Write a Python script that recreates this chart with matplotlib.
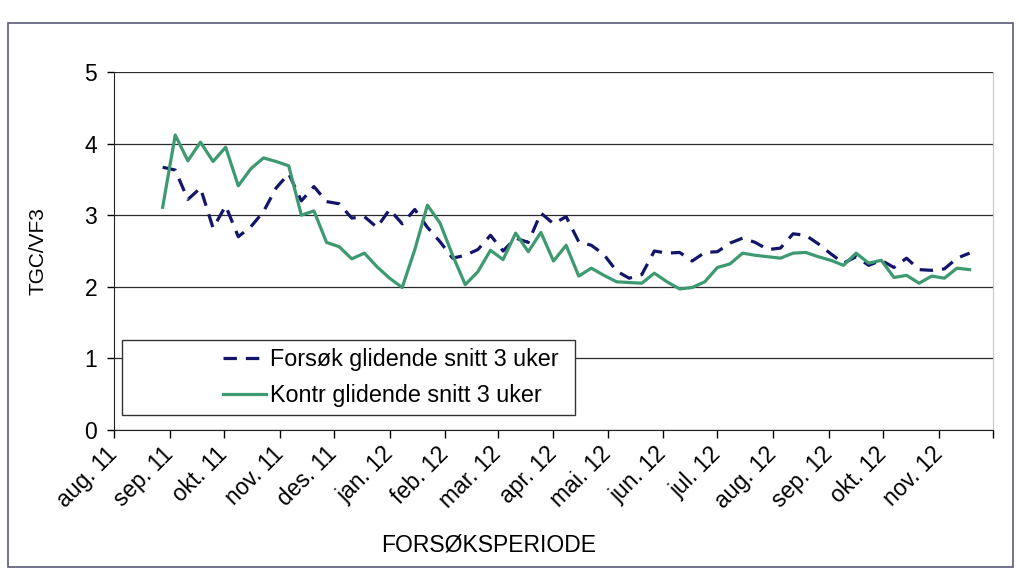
import pandas as pd
import matplotlib
matplotlib.use('Agg')
import matplotlib.pyplot as plt
from matplotlib.patches import Rectangle

plt.rcParams['font.family'] = ['Liberation Sans', 'DejaVu Sans']

# ukentlige verdier (glidende snitt 3 uker)
dates = pd.date_range('2011-08-28', periods=65, freq='7D')

forsok = [3.67, 3.63, 3.22, 3.38, 2.82, 3.13, 2.70, 2.84, 3.05, 3.38,
          3.58, 3.20, 3.40, 3.19, 3.16, 2.96, 2.98, 2.83, 3.08, 2.88,
          3.08, 2.83, 2.63, 2.40, 2.44, 2.52, 2.72, 2.50, 2.68, 2.62,
          3.03, 2.88, 2.98, 2.63, 2.58, 2.45, 2.22, 2.12, 2.17, 2.50,
          2.47, 2.48, 2.36, 2.48, 2.49, 2.61, 2.68, 2.62, 2.52, 2.54,
          2.74, 2.72, 2.60, 2.46, 2.33, 2.42, 2.30, 2.37, 2.27, 2.40,
          2.24, 2.23, 2.25, 2.40, 2.47]

kontr = [3.11, 4.12, 3.76, 4.02, 3.75, 3.95, 3.41, 3.65, 3.80, 3.75,
         3.69, 3.00, 3.06, 2.62, 2.56, 2.39, 2.47, 2.28, 2.12, 1.99,
         2.52, 3.14, 2.89, 2.44, 2.03, 2.21, 2.51, 2.38, 2.75, 2.49,
         2.76, 2.36, 2.58, 2.15, 2.26, 2.16, 2.07, 2.06, 2.05, 2.19,
         2.07, 1.97, 1.99, 2.07, 2.27, 2.32, 2.47, 2.44, 2.42, 2.40,
         2.47, 2.48, 2.42, 2.37, 2.30, 2.47, 2.33, 2.37, 2.13, 2.16,
         2.05, 2.15, 2.12, 2.26, 2.24]

month_ticks = pd.date_range('2011-08-01', '2012-12-01', freq='MS')
month_labels = ['aug. 11', 'sep. 11', 'okt. 11', 'nov. 11', 'des. 11',
                'jan. 12', 'feb. 12', 'mar. 12', 'apr. 12', 'mai. 12',
                'jun. 12', 'jul. 12', 'aug. 12', 'sep. 12', 'okt. 12',
                'nov. 12', '']

fig = plt.figure(figsize=(10.2, 5.69), dpi=100)
ax = fig.add_axes([114/1020, 1 - 430/569, 879/1020, 358/569])

# ramme rundt hele figuren
fig.patches.append(Rectangle((8/1020, 2/569), 1005/1020, 544/569,
                             transform=fig.transFigure, fill=False,
                             edgecolor='#5a5a78', linewidth=1.2))

ax.plot(dates, forsok, color='#14146b', linewidth=2.3, dashes=(4.2, 2.8),
        label='Forsøk glidende snitt 3 uker', zorder=3)
ax.plot(dates, kontr, color='#3d9a70', linewidth=2.3,
        label='Kontr glidende snitt 3 uker', zorder=3)

ax.set_ylim(0, 5)
ax.set_yticks(range(6))
ax.set_xlim(month_ticks[0], month_ticks[-1])
ax.set_xticks(month_ticks)
ax.set_xticklabels(month_labels, rotation=45, ha='right', va='center',
                   rotation_mode='anchor')
ax.tick_params(axis='x', direction='out', length=6, width=1, pad=9, labelsize=16.5)
ax.tick_params(axis='y', direction='out', length=5, width=1, pad=7, labelsize=16.5)

ax.grid(axis='y', color='#2a2a2a', linewidth=0.9)
ax.set_axisbelow(True)
ax.spines['top'].set_visible(False)
ax.spines['right'].set_color('#c8c8c8')
ax.spines['left'].set_color('#222222')
ax.spines['bottom'].set_color('#222222')

ax.set_ylabel('TGC/VF3', fontsize=15)
ax.yaxis.set_label_coords(-0.076, 0.5)
fig.text(489/1020, 1 - 545/569, 'FORSØKSPERIODE', fontsize=16.5,
         ha='center', va='center')

# legendeboks
ax.add_patch(Rectangle((0.0091, 0.0419), 0.5154, 0.2095, transform=ax.transAxes,
                       facecolor='white', edgecolor='#333333', linewidth=1,
                       zorder=4))
leg = ax.legend(loc='center left', bbox_to_anchor=(0.124, 0.1466),
                frameon=False, fontsize=16.8, handlelength=1.85,
                handletextpad=0.15, labelspacing=0.55, borderpad=0,
                borderaxespad=0)
leg.set_zorder(5)

fig.savefig('out.png', dpi=100)
